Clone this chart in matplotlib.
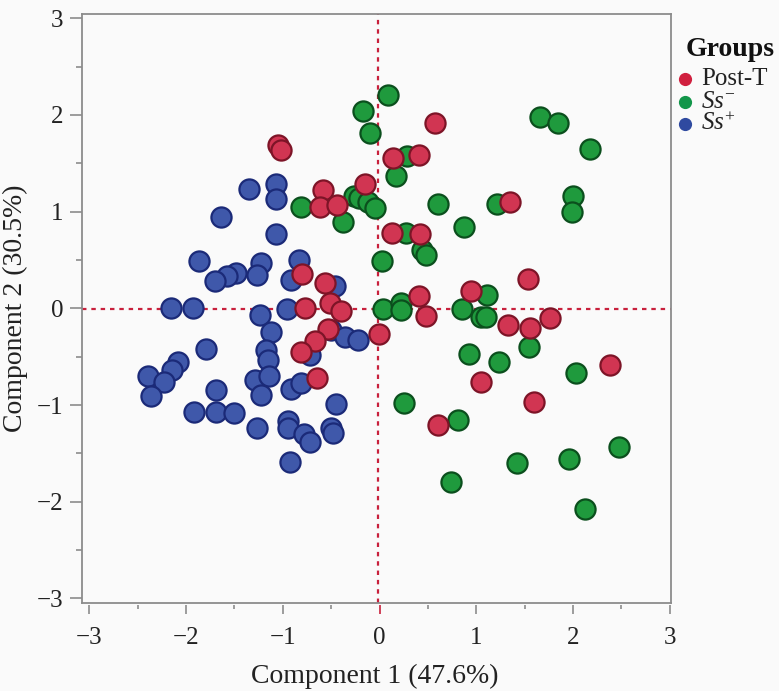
import matplotlib
matplotlib.use("Agg")
import matplotlib.pyplot as plt
from matplotlib.lines import Line2D
import numpy as np

# ---- data ----
post_t_x = [-1.05, -1.02, -0.58, -0.62, -0.44, -0.15, 0.14, 0.41, 0.13, 0.42, 0.57, 1.35,
            -0.80, -0.56, -0.77, -0.51, -0.40, -0.53, -0.67, -0.81, -0.65, -0.01,
            0.41, 0.48, 0.95, 1.53, 1.33, 1.56, 1.76, 1.05, 1.60, 0.60, 2.38]
post_t_y = [1.69, 1.64, 1.22, 1.05, 1.07, 1.29, 1.55, 1.59, 0.78, 0.77, 1.92, 1.10,
            0.36, 0.26, 0.00, 0.05, -0.03, -0.21, -0.34, -0.45, -0.72, -0.27,
            0.13, -0.08, 0.18, 0.30, -0.17, -0.20, -0.10, -0.76, -0.97, -1.21, -0.59]

ss_neg_x = [0.09, -0.17, -0.10, 0.28, 0.17, -0.81, -0.38, -0.26, -0.21, -0.12, -0.05, 0.27,
            0.60, 0.87, 1.21, 1.66, 1.84, 2.18, 2.00, 1.99, 0.44, 0.48, 0.03, 0.04,
            0.22, 0.22, 0.85, 1.11, 1.05, 1.10, 0.93, 1.23, 0.25, 0.81, 1.42, 0.74,
            1.55, 2.03, 1.96, 2.48, 2.12]
ss_neg_y = [2.21, 2.04, 1.81, 1.57, 1.37, 1.05, 0.89, 1.16, 1.14, 1.10, 1.04, 0.78,
            1.08, 0.84, 1.08, 1.98, 1.92, 1.65, 1.16, 1.00, 0.60, 0.55, 0.49, -0.01,
            0.05, -0.02, -0.01, 0.14, -0.09, -0.09, -0.47, -0.56, -0.98, -1.15, -1.60, -1.80,
            -0.40, -0.67, -1.56, -1.43, -2.07]

ss_pos_x = [-1.35, -1.07, -1.07, -1.64, -1.07, -1.87, -1.23, -1.27, -1.48, -1.58, -1.70,
            -2.15, -1.93, -1.24, -1.12, -0.96, -1.79, -1.17, -1.15, -2.08, -2.14, -2.39,
            -2.23, -1.29, -1.14, -2.36, -1.22, -1.69, -1.92, -1.69, -1.50, -1.27, -0.95,
            -0.95, -0.93, -0.83, -0.91, -0.46, -0.50, -0.36, -0.22, -0.72, -0.91, -0.81,
            -0.45, -0.78, -0.72, -0.50, -0.48]
ss_pos_y = [1.23, 1.29, 1.13, 0.94, 0.77, 0.49, 0.47, 0.34, 0.37, 0.33, 0.28,
            0.00, 0.00, -0.07, -0.24, -0.01, -0.42, -0.43, -0.53, -0.55, -0.64, -0.70,
            -0.76, -0.74, -0.70, -0.91, -0.90, -0.84, -1.07, -1.07, -1.08, -1.24, -1.17,
            -1.24, -1.59, 0.50, 0.29, 0.23, -0.22, -0.30, -0.33, -0.48, -0.83, -0.77,
            -0.99, -1.30, -1.38, -1.24, -1.29]

group_labels = ["Post-T", r"$\mathit{Ss}^{-}$", r"$\mathit{Ss}^{+}$"]
x_ticks = [-3, -2, -1, 0, 1, 2, 3]
y_ticks = [-3, -2, -1, 0, 1, 2, 3]
x_label = "Component 1 (47.6%)"
y_label = "Component 2 (30.5%)"

# ---- style ----
plt.rcParams['font.family'] = ['Liberation Serif', 'DejaVu Serif']
plt.rcParams['mathtext.fontset'] = 'custom'
plt.rcParams['mathtext.rm'] = 'Liberation Serif'
plt.rcParams['mathtext.it'] = 'Liberation Serif:italic'

bg = '#fafafa'
frame_c = '#8c8c8c'
ref_red = '#c8203c'
fills = ['#d13552', '#1f9a3d', '#3f58aa']
edges = ['#7d1427', '#0b4f1d', '#1b2a78']
leg_cols = ['#d0203f', '#13964a', '#2f4aa0']

fig = plt.figure(figsize=(7.79, 6.91), dpi=100, facecolor=bg)
ax = fig.add_axes([0.1049, 0.1269, 0.7561, 0.8524])
ax.set_facecolor(bg)

ax.set_xlim(-3.078, 3.01)
ax.set_ylim(-3.05, 3.04)

# reference lines
ax.axhline(-0.01, color=ref_red, lw=1.6, ls=(0, (2, 2.2)), zorder=1)
ax.axvline(-0.02, color=ref_red, lw=1.6, ls=(0, (2, 2.2)), zorder=1)

# groups: index 0 = Post-T, 1 = Ss-, 2 = Ss+
groups = [(post_t_x, post_t_y), (ss_neg_x, ss_neg_y), (ss_pos_x, ss_pos_y)]
for gi in [2, 1, 0]:
    xs, ys = groups[gi]
    ax.scatter(xs, ys, s=210, c=fills[gi], edgecolors=edges[gi], linewidths=1.6, zorder=3)

# frame
for sp in ['left', 'right', 'top']:
    ax.spines[sp].set_color(frame_c)
    ax.spines[sp].set_linewidth(1.3)
ax.spines['bottom'].set_position(('outward', 1.5))
ax.spines['bottom'].set_visible(False)
ax.add_line(Line2D([0, 1], [0, 0], transform=ax.transAxes, color=frame_c, lw=1.3,
                   clip_on=False, zorder=5))

ax.set_xticks(x_ticks)
ax.set_yticks(y_ticks)
ax.set_xticks(np.arange(-2.5, 3.0, 1.0), minor=True)
ax.set_yticks(np.arange(-2.5, 3.0, 1.0), minor=True)
ax.set_xticklabels([str(t).replace('-', '\u2212') for t in x_ticks])
ax.set_yticklabels([str(t).replace('-', '\u2212') for t in y_ticks])
ax.tick_params(axis='x', which='major', direction='out', length=6.5, width=1.2,
               color=frame_c, labelsize=18, pad=9, labelcolor='#222222')
ax.tick_params(axis='x', which='minor', direction='out', length=3, width=1.2, color=frame_c)
ax.tick_params(axis='y', which='major', direction='out', length=8.4, width=1.2,
               color=frame_c, labelsize=18, pad=5, labelcolor='#222222')
ax.tick_params(axis='y', which='minor', direction='out', length=4, width=1.2, color=frame_c)

# red zero tick
for t, v in zip(ax.xaxis.get_major_ticks(), x_ticks):
    if v == 0:
        t.tick1line.set_color(ref_red)
        t.tick1line.set_markeredgecolor(ref_red)

ax.set_xlabel(x_label, fontsize=20, color='#222222')
ax.set_ylabel(y_label, fontsize=20, color='#222222')
ax.xaxis.set_label_coords(0.498, -0.1234)
ax.xaxis.label.set_va('center')
ax.yaxis.set_label_coords(-0.113, 0.501)
ax.yaxis.label.set_va('center')

# legend (manual)
W, H = 779.0, 691.0
fig.text(686 / W, 1 - 49 / H, "Groups", fontsize=20, fontweight='bold',
         ha='left', va='center', color='#111111')
rows = [79, 102, 124]
for lab, col, ry in zip(group_labels, leg_cols, rows):
    fig.add_artist(Line2D([685 / W], [1 - ry / H], marker='o', markersize=9.5,
                          color=col, markeredgewidth=0, linestyle='none'))
    fig.text(701 / W, 1 - ry / H, lab, fontsize=18, ha='left', va='center', color='#222222')

fig.savefig("out.png", dpi=100, facecolor=bg)
